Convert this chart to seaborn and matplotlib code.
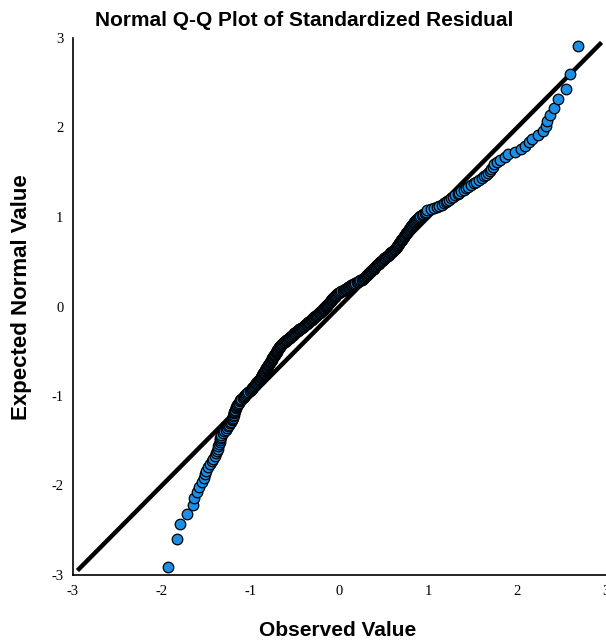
import matplotlib
matplotlib.use("Agg")
import matplotlib.pyplot as plt
import seaborn as sns
import pandas as pd
from statistics import NormalDist

# Standardized residuals, sorted ascending
residuals = [
    -1.93, -1.83, -1.79, -1.72, -1.65, -1.635, -1.60, -1.58, -1.55, -1.53,
    -1.51, -1.50, -1.48, -1.46, -1.44, -1.42, -1.405, -1.39, -1.38, -1.37,
    -1.363, -1.357, -1.35, -1.345, -1.34, -1.335, -1.33, -1.31, -1.295, -1.28,
    -1.27, -1.26, -1.245, -1.23, -1.22, -1.215, -1.21, -1.20, -1.195, -1.19,
    -1.188, -1.185, -1.18, -1.175, -1.17, -1.16, -1.155, -1.15, -1.14, -1.13,
    -1.125, -1.115, -1.105, -1.09, -1.08, -1.07, -1.06, -1.05, -1.04, -1.025,
    -1.01, -1.00, -0.99, -0.98, -0.97, -0.965, -0.955, -0.945, -0.935, -0.925,
    -0.915, -0.91, -0.90, -0.893, -0.888, -0.882, -0.876, -0.87, -0.865, -0.86,
    -0.851, -0.846, -0.84, -0.835, -0.829, -0.824, -0.818, -0.813, -0.807, -0.802,
    -0.796, -0.791, -0.786, -0.78, -0.776, -0.77, -0.765, -0.76, -0.755, -0.75,
    -0.744, -0.739, -0.734, -0.729, -0.724, -0.719, -0.714, -0.709, -0.704, -0.699,
    -0.694, -0.689, -0.684, -0.679, -0.674, -0.669, -0.66, -0.65, -0.642, -0.633,
    -0.624, -0.615, -0.607, -0.598, -0.588, -0.579, -0.571, -0.562, -0.554, -0.544,
    -0.535, -0.527, -0.517, -0.508, -0.498, -0.49, -0.479, -0.47, -0.46, -0.451,
    -0.441, -0.432, -0.423, -0.414, -0.404, -0.395, -0.386, -0.377, -0.368, -0.359,
    -0.349, -0.34, -0.332, -0.323, -0.315, -0.307, -0.298, -0.29, -0.282, -0.274,
    -0.266, -0.258, -0.249, -0.241, -0.233, -0.225, -0.217, -0.209, -0.2, -0.191,
    -0.183, -0.176, -0.17, -0.163, -0.157, -0.15, -0.144, -0.138, -0.131, -0.125,
    -0.119, -0.112, -0.106, -0.1, -0.093, -0.087, -0.081, -0.075, -0.068, -0.062,
    -0.055, -0.049, -0.043, -0.037, -0.03, -0.017, -0.004, 0.008, 0.021, 0.034,
    0.049, 0.062, 0.075, 0.086, 0.099, 0.11, 0.121, 0.133, 0.144, 0.155,
    0.168, 0.179, 0.192, 0.206, 0.222, 0.236, 0.252, 0.266, 0.276, 0.283,
    0.291, 0.299, 0.306, 0.314, 0.321, 0.329, 0.337, 0.345, 0.352, 0.36,
    0.368, 0.376, 0.383, 0.391, 0.399, 0.407, 0.415, 0.423, 0.431, 0.44,
    0.45, 0.459, 0.468, 0.478, 0.487, 0.497, 0.506, 0.516, 0.525, 0.535,
    0.545, 0.554, 0.565, 0.574, 0.584, 0.595, 0.604, 0.614, 0.622, 0.629,
    0.635, 0.642, 0.648, 0.654, 0.661, 0.667, 0.675, 0.681, 0.687, 0.694,
    0.701, 0.708, 0.715, 0.721, 0.728, 0.736, 0.743, 0.75, 0.757, 0.764,
    0.772, 0.779, 0.786, 0.794, 0.803, 0.81, 0.818, 0.826, 0.834, 0.842,
    0.85, 0.858, 0.868, 0.88, 0.895, 0.91, 0.927, 0.945, 0.958, 0.97,
    0.99, 1.025, 1.063, 1.10, 1.125, 1.15, 1.175, 1.195, 1.21, 1.235,
    1.255, 1.28, 1.30, 1.33, 1.35, 1.37, 1.40, 1.42, 1.45, 1.48,
    1.51, 1.54, 1.57, 1.60, 1.63, 1.65, 1.67, 1.69, 1.71, 1.725,
    1.74, 1.77, 1.81, 1.86, 1.90, 1.98, 2.04, 2.09, 2.13, 2.17,
    2.23, 2.295, 2.325, 2.34, 2.37, 2.41, 2.46, 2.55, 2.59, 2.68,
]

axis_ticks = [-3, -2, -1, 0, 1, 2, 3]
tick_labels = ["-3", "-2", "-1", "0", "1", "2", "3"]
diagonal = [-2.95, 2.95]

# Expected normal quantiles from ranks (Blom plotting positions)
n = len(residuals)
observed = sorted(residuals)
expected = [NormalDist().inv_cdf((i - 0.375) / (n + 0.25)) for i in range(1, n + 1)]
df = pd.DataFrame({"Observed Value": observed, "Expected Normal Value": expected})

sns.set_theme(style="white")
plt.rcParams["font.family"] = ["Liberation Sans", "DejaVu Sans"]
plt.rcParams["text.color"] = "black"
plt.rcParams["axes.labelcolor"] = "black"
plt.rcParams["xtick.color"] = "black"
plt.rcParams["ytick.color"] = "black"

W, H = 606, 643
fig = plt.figure(figsize=(W / 100, H / 100), dpi=100)
ax = fig.add_axes([73 / W, 68 / H, 533 / W, 537 / H])

ax.plot(diagonal, diagonal, color="black", lw=3.2, solid_capstyle="butt", zorder=2)
sns.scatterplot(
    data=df, x="Observed Value", y="Expected Normal Value", ax=ax,
    s=58, color="#1b8ee6", edgecolor="black", linewidth=0.9,
    zorder=3, clip_on=False, legend=False,
)

ax.set_xlim(-3, 3)
ax.set_ylim(-3, 3)
ax.set_xticks(axis_ticks)
ax.set_xticklabels(tick_labels, family="Liberation Serif", fontsize=10.5)
ax.set_yticks(axis_ticks)
ax.set_yticklabels(tick_labels, family="Liberation Serif", fontsize=10.5)
ax.tick_params(axis="both", length=0)
ax.tick_params(axis="x", pad=7)
ax.tick_params(axis="y", pad=7)

for side in ("top", "right"):
    ax.spines[side].set_visible(False)
for side in ("left", "bottom"):
    ax.spines[side].set_color("black")
    ax.spines[side].set_linewidth(1.2)

ax.set_xlabel("Observed Value", fontsize=15, fontweight="bold", color="black")
ax.set_ylabel("Expected Normal Value", fontsize=16, fontweight="bold", color="black")
ax.xaxis.set_label_coords((338 - 73) / 533, (575 - 630) / 537)
ax.yaxis.set_label_coords((22 - 73) / 533, (575 - 297) / 537)
ax.xaxis.label.set_va("center")
ax.yaxis.label.set_va("center")

fig.suptitle("Normal Q-Q Plot of Standardized Residual", x=304.5 / W, y=1 - 20 / H,
             va="center", fontsize=15, fontweight="bold", color="black")

fig.savefig("out.png", dpi=100, facecolor="white")
